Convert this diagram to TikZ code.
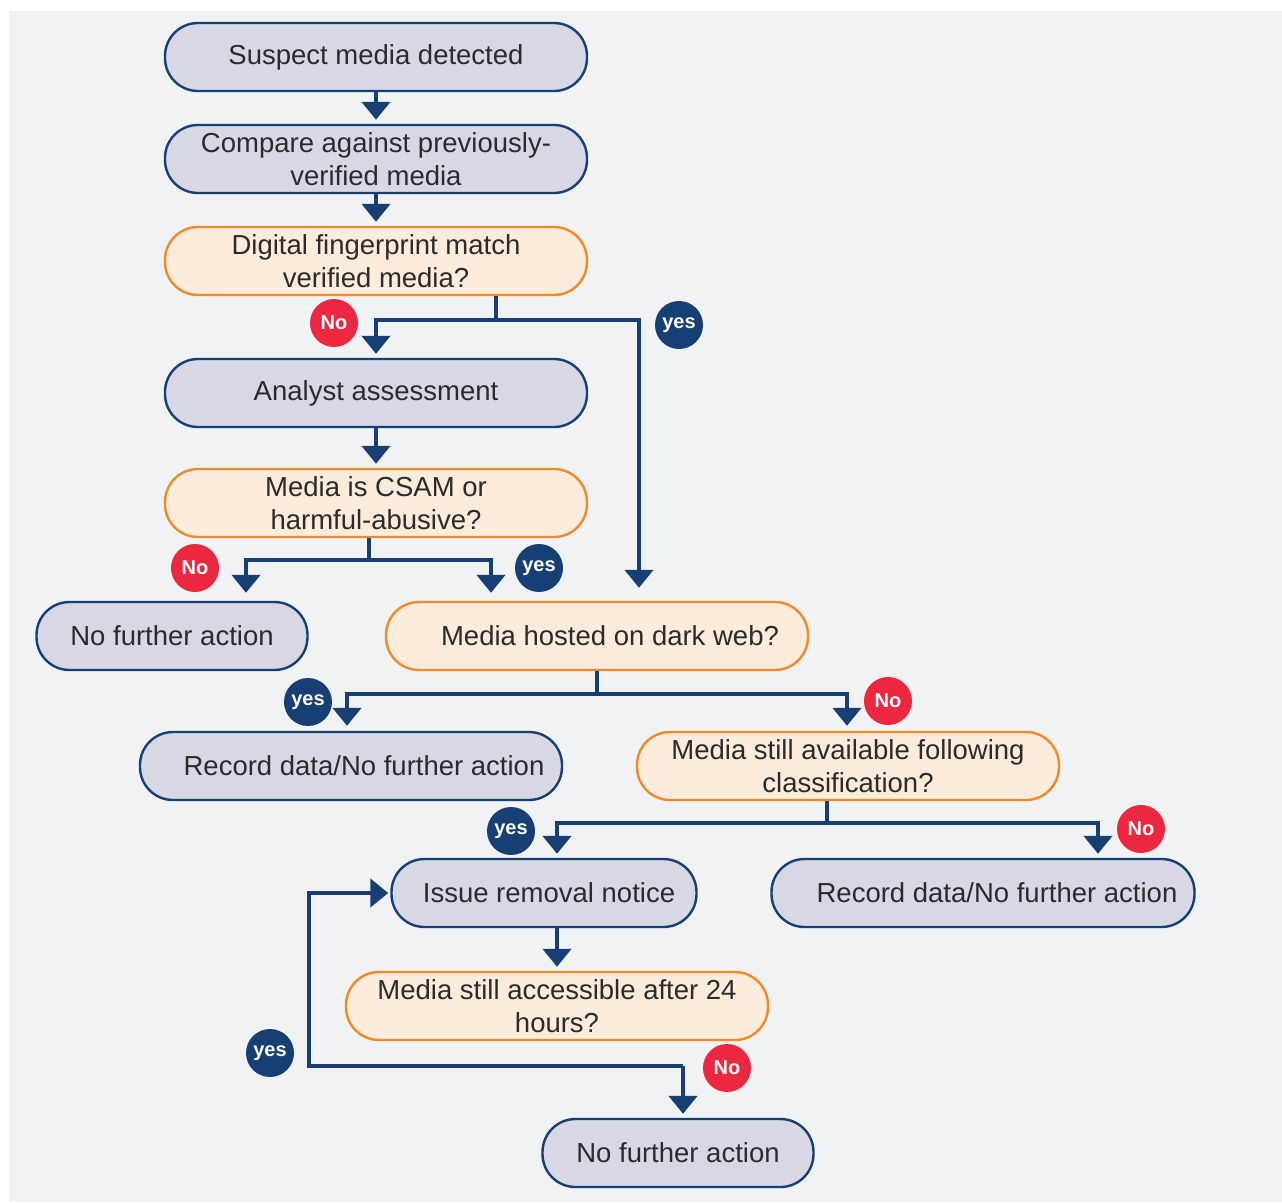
\documentclass[tikz,border=0pt]{standalone}
\usepackage{fontspec}
\setmainfont{Liberation Sans}
\usetikzlibrary{arrows.meta}
\definecolor{panel}{HTML}{F1F2F4}
\definecolor{navy}{HTML}{173F73}
\definecolor{greyfill}{HTML}{D8D8E4}
\definecolor{peach}{HTML}{FDEBDB}
\definecolor{amber}{HTML}{EF8A2B}
\definecolor{alert}{HTML}{EC2740}
\definecolor{ink}{HTML}{2B2B2B}
\begin{document}
\begin{tikzpicture}[x=1pt,y=-1pt,
  box/.style={draw=navy, line width=2.4pt, fill=greyfill, rounded corners=33pt,
    minimum width=422pt, minimum height=68pt, inner sep=0pt, align=center,
    font=\fontsize{27.5}{32.5}\selectfont, text=ink},
  query/.style={box, draw=amber, fill=peach},
  wire/.style={draw=navy, line width=4.5pt},
  flow/.style={wire, -{Triangle[width=28pt,length=18pt]}, shorten >=4pt},
  nobadge/.style={circle, fill=alert, minimum size=48pt, inner sep=0pt,
    text=white, font=\fontsize{20}{20}\selectfont\bfseries},
  yesbadge/.style={nobadge, fill=navy},
]
% panel and page size
\path[use as bounding box] (0,0) rectangle (1282,1202);
\fill[panel] (9,11) rectangle (1282,1202);

% steps
\node[box] (n1) at (376,57) {Suspect media detected};
\node[box] (n2) at (376,159) {Compare against previously-\\verified media};
\node[query] (n3) at (376,261) {Digital fingerprint match\\verified media?};
\node[box] (n4) at (376,393) {Analyst assessment};
\node[query] (n5) at (376,503) {Media is CSAM or\\harmful-abusive?};
\node[box, minimum width=271pt] (n6) at (172,636) {No further action};
\node[query] (n7) at (597,636) {\hspace*{26pt}Media hosted on dark web?};
\node[box] (n8) at (351,766) {\hspace*{26pt}Record data/No further action};
\node[query] (n9) at (848,766) {Media still available following\\classification?};
\node[box, minimum width=305pt] (n10) at (544,893) {\hspace*{10pt}Issue removal notice};
\node[box, minimum width=423pt] (n11) at (983,893) {\hspace*{28pt}Record data/No further action};
\node[query] (n12) at (557,1006) {Media still accessible after 24\\hours?};
\node[box, minimum width=271pt] (n13) at (678,1153) {No further action};

% junction points
\coordinate (s3) at (496,320);
\coordinate (s5) at (369,560);
\coordinate (s7) at (597,694);
\coordinate (s9) at (827,823);
\coordinate (s12) at (683,1066);
\coordinate (loop) at (309,1066);

% connectors
\draw[flow] (n1) -- (n2);
\draw[flow] (n2) -- (n3);

\draw[wire] (n3.south -| s3) -- (s3);
\draw[flow] (s3) -| (n4.north);
\draw[flow, shorten >=13pt] (s3) -| ([xshift=42pt]n7.north);

\draw[flow] (n4) -- (n5);

\draw[wire] (n5.south -| s5) -- (s5);
\draw[flow, shorten >=8pt] (s5) -| ([xshift=74pt]n6.north);
\draw[flow, shorten >=8pt] (s5) -| ([xshift=-106pt]n7.north);

\draw[wire] (n7.south -| s7) -- (s7);
\draw[flow, shorten >=5pt] (s7) -| ([xshift=-4pt]n8.north);
\draw[flow, shorten >=5pt] (s7) -| ([xshift=-1pt]n9.north);

\draw[wire] (n9.south -| s9) -- (s9);
\draw[flow] (s9) -| ([xshift=13pt]n10.north);
\draw[flow] (s9) -| ([xshift=115pt]n11.north);

\draw[flow] (n10.south -| n12) -- (n12.north);

\draw[flow] (s12) -- (s12 |- n13.north);
\draw[flow, shorten >=2pt] (s12) -- (loop) |- (n10.west);

% decision labels
\node[nobadge] (b1) at (334,323) {No};
\node[yesbadge] (b2) at (679,325) {yes};
\node[nobadge] (b3) at (195,568) {No};
\node[yesbadge] (b4) at (539,568) {yes};
\node[yesbadge] (b5) at (308,702) {yes};
\node[nobadge] (b6) at (888,701) {No};
\node[yesbadge] (b7) at (511,831) {yes};
\node[nobadge] (b8) at (1141,829) {No};
\node[yesbadge] (b9) at (270,1053) {yes};
\node[nobadge] (b10) at (727,1068) {No};
\end{tikzpicture}
\end{document}
